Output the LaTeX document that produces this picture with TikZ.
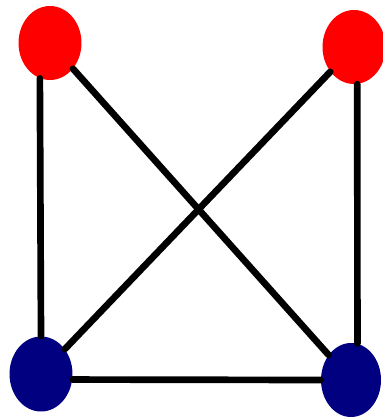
\documentclass[tikz,border=0pt]{standalone}
\usetikzlibrary{shapes.geometric}
\definecolor{navyblue}{RGB}{0,0,128}
\begin{document}
\begin{tikzpicture}[x=0.02cm,y=-0.02cm,line join=round,line cap=round,
	edge/.style={line width=3.8pt},
	vertex/.style={ellipse,inner sep=0pt,minimum width=1.26cm,minimum height=1.48cm},
	topv/.style={vertex,fill=red},
	botv/.style={vertex,fill=navyblue}]
	\useasboundingbox (0,0) rectangle (382,418);
	\node[topv] (tl) at (50,43) {};
	\node[topv] (tr) at (354,47) {};
	\node[botv,minimum height=1.5cm] (bl) at (41,374) {};
	\node[botv,minimum width=1.2cm] (br) at (351,380) {};
	\draw[edge] (tl.254) -- (bl.north);
	\draw[edge] (tr.-85) -- (br.80);
	\draw[edge] (bl.-10) -- (br.west);
	\draw[edge] (tl) -- (br);
	\draw[edge] (tr) -- (bl);
\end{tikzpicture}
\end{document}
